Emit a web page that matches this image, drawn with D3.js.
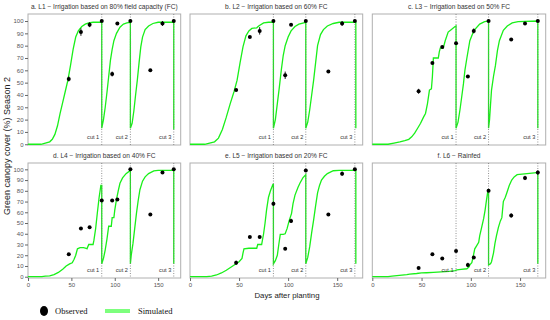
<!DOCTYPE html>
<html><head><meta charset="utf-8">
<script src="https://cdn.jsdelivr.net/npm/d3@7"></script>
<style>body{margin:0;background:#fff}svg{display:block}</style>
</head><body>
<svg id="c" width="550" height="320"></svg>
<script>
// ---------- data ----------
const titles = [
  "a. L1 \u2212 Irrigation based on 80% field capacity (FC)",
  "b. L2 \u2212 Irrigation based on 60% FC",
  "c. L3 \u2212 Irrigation based on 50% FC",
  "d. L4 \u2212 Irrigation based on 40% FC",
  "e. L5 \u2212 Irrigation based on 20% FC",
  "f. L6 \u2212 Rainfed"
];
const cutDays = [85, 118, 168];
const cutLabels = ["cut 1", "cut 2", "cut 3"];
const xTicks = [0, 50, 100, 150];
const yTicks = [0, 10, 20, 30, 40, 50, 60, 70, 80, 90, 100];

const obsDays = [47, 61, 71, 85, 97, 103, 118, 141, 155, 168];
const obsA = [53, 91, 97, 100, 57, 98, 100, 60, 98, 100];
const obsB = [44, 87, 92, 100, 56, 97, 100, 59, 98, 100];
const obsC = [43, 66, 79, 82, 55, 92, 100, 85, 98, 100];
const obsD = [21, 45, 46, 71, 71, 72, 100, 58, 97, 100];
const obsE = [13, 37, 37, 68, 26, 52, 99, 58, 96, 100];
const obsF = [8, 21, 17, 24, 11, 18, 80, 57, 92, 97];
const errA = [2, 3, 2, 1, 2, 1, 1, 1, 2, 1];
const errB = [1, 1, 3, 1, 3, 1, 1, 1, 2, 1];
const errC = [2, 1, 1, 1, 1, 2, 1, 1, 1, 1];
const errD = [1, 1, 1, 1, 1, 1, 1, 1, 1, 1];
const errE = [2, 1, 1, 2, 1, 2, 1, 1, 2, 1];
const errF = [1, 1, 1, 1, 2, 1, 1, 2, 2, 2];

const simA = [[0,0],[15,0],[20,1],[25,2],[28,4],[31,8],[34,15],[37,25],[40,34],[43,43],[46,52],[49,64],[52,77],[55,87],[58,92],[62,95.5],[66,97.5],[70,98.5],[75,99],[85,99],[85,13],[87,20],[89,30],[91,42],[93,55],[95,68],[97,77],[99,84],[102,90],[106,95],[110,97.5],[114,98.5],[118,99],[118,13],[120,17],[122,27],[124,40],[126,52],[128,66],[130,79],[132,87],[135,93],[139,96],[144,98],[150,99],[168,99],[168,12]];
const simB = [[0,0],[15,0],[20,1],[25,2],[29,5],[33,12],[37,22],[41,33],[45,43],[48,52],[51,66],[54,79],[57,88],[60,92],[63,94],[68,94.5],[70,96],[75,98.5],[80,99],[85,99],[85,13],[87,20],[89,33],[91,46],[93,60],[95,72],[97,80],[100,87],[103,92],[107,95.5],[111,97.5],[118,99],[118,13],[120,18],[122,28],[124,40],[126,52],[128,66],[130,80],[133,89],[136,93],[140,96],[146,98],[152,99],[169,99],[169,13]];
const simC = [[0,0],[16,0],[22,1],[28,2],[33,3],[37,4],[40,6],[43,9],[46,13],[49,17],[52,22],[54,25],[56,33],[58,44],[60,45],[61,55],[62,70],[67,70],[68,75],[69,78],[72,78],[74,84],[77,91],[80,93],[84,95.5],[85,96],[85,13],[87,18],[89,28],[91,40],[92.5,49],[94,60],[96,70],[99,84],[102,90],[104,93],[109,97.5],[114,99.5],[118,100],[118,13],[119,20],[120,32],[121,44],[123,55],[125,64],[127,76],[129,84],[133,92.5],[137,96],[142,98.5],[148,99.5],[168,100],[168,13]];
const simD = [[0,0],[16,0],[20,0.5],[25,0.8],[30,2],[35,4],[40,7],[44,10],[48,12],[51,13],[53,16],[55,20],[57,26],[60,27],[64,27],[67,26.5],[68,26],[70,30],[75,30],[76,34],[78,45],[80,60],[82,74],[84,85],[85,85],[85,12],[87,17],[89,25],[91,35],[93,47],[96,47],[97,55],[99,55],[100,62],[102,72],[104,80],[106,87],[109,92],[113,96],[118,99],[118,12],[119,20],[121,31],[123,45],[125,59],[127,71],[129,81],[132,89],[135,93],[139,96],[145,98.5],[150,99],[168,99],[168,12]];
const simE = [[0,0],[17,0],[22,0.5],[27,1.6],[32,3.5],[37,6],[42,9],[47,12],[50,14],[53,17],[54,22],[55,26],[60,26.5],[68,26.5],[69,30],[73,30],[75,40],[76.5,50],[78,62],[80,74],[82,80],[84.5,86],[85,86],[85,12],[87,15],[89,20],[90.5,30],[92,39.5],[95,39.5],[97,40],[99,45],[101,52],[103.5,59],[105,68],[107,76],[110,83],[112,87],[115,92],[118,95],[118,12],[120,18],[122,28],[124,41],[126,53],[128,66],[130,78],[132,85],[134,90],[137,93.5],[140,96],[146,98.7],[152,99],[169,99],[169,12]];
const simF = [[0,0],[16,0],[20,0.5],[25,1],[30,1.5],[35,2],[38,2.5],[45,3],[50,3.5],[55,3.7],[62,4],[70,4.5],[78,5],[84,5.6],[86,6.3],[90,6.8],[96,7.4],[98,9],[99,11],[101,13],[102,17],[104,26],[106,29],[108,32],[109,38],[111,46],[113,54],[114.5,62],[116,72],[117.5,81],[118,81],[118,11],[120,12],[121,14],[123,22],[124.5,31],[126,38],[128,46],[130,52],[131.5,55],[133,70],[135,74],[136.5,78],[139,85],[141.5,90],[144,93],[147,95],[152,95.5],[157,96],[162,96.5],[167,97],[168,97],[168,12]];

const obsSeries = [obsA, obsB, obsC, obsD, obsE, obsF];
const errSeries = [errA, errB, errC, errD, errE, errF];
const simSeries = [simA, simB, simC, simD, simE, simF];

// ---------- layout ----------
const svg = d3.select("#c");
const cols = [[28, 180.7], [190, 362.7], [372.3, 545.7]];
const rows = [{top: 14, bottom: 145, dom: [-0.6, 105.7]}, {top: 163, bottom: 278, dom: [-1.2, 105.9]}];
const green = "#19f019";
const font = "Liberation Sans, Arial, sans-serif";

titles.forEach((t, i) => {
  const c = cols[i % 3], r = rows[Math.floor(i / 3)];
  const x = d3.scaleLinear().domain([0, 176]).range(c);
  const y = d3.scaleLinear().domain(r.dom).range([r.bottom, r.top]);
  const g = svg.append("g");

  g.append("rect").attr("x", c[0]).attr("y", r.top)
    .attr("width", c[1] - c[0]).attr("height", r.bottom - r.top)
    .attr("fill", "#fff").attr("stroke", "#b0b0b0").attr("stroke-width", 1);

  g.append("text").attr("x", (c[0] + c[1]) / 2).attr("y", r.top - 5)
    .attr("text-anchor", "middle").attr("font-family", font)
    .attr("font-size", 6.6).attr("fill", "#333").text(t);

  // simulated line
  g.append("path").datum(simSeries[i])
    .attr("d", d3.line().x(d => x(d[0])).y(d => y(d[1])))
    .attr("fill", "none").attr("stroke", green).attr("stroke-width", 1.3);

  // cut lines
  cutDays.forEach((cd, k) => {
    g.append("line").attr("x1", x(cd)).attr("x2", x(cd))
      .attr("y1", r.top).attr("y2", r.bottom)
      .attr("stroke", "#777").attr("stroke-width", 0.8)
      .attr("stroke-dasharray", "1,1.5");
    g.append("text").attr("x", x(cd) - 2.5).attr("y", r.bottom - 6.5)
      .attr("text-anchor", "end").attr("font-family", font)
      .attr("font-size", 5.6).attr("fill", "#333").text(cutLabels[k]);
  });

  // observed with error bars
  const obs = obsSeries[i], err = errSeries[i];
  obsDays.forEach((d, k) => {
    if (err[k] > 1) {
      g.append("line").attr("x1", x(d)).attr("x2", x(d))
        .attr("y1", y(obs[k] - err[k])).attr("y2", y(obs[k] + err[k]))
        .attr("stroke", "#000").attr("stroke-width", 0.9);
    }
    g.append("circle").attr("cx", x(d)).attr("cy", y(obs[k])).attr("r", 2)
      .attr("fill", "#000");
  });

  // axes
  if (i % 3 === 0) {
    const ax = g.append("g").attr("transform", `translate(${c[0]},0)`)
      .call(d3.axisLeft(y).tickValues(yTicks).tickSize(3).tickPadding(1.5));
    ax.select(".domain").remove();
    ax.selectAll("line").attr("stroke", "#666");
    ax.selectAll("text").attr("font-family", font).attr("font-size", 6).attr("fill", "#555");
  }
  if (i >= 3) {
    const ax = g.append("g").attr("transform", `translate(0,${r.bottom})`)
      .call(d3.axisBottom(x).tickValues(xTicks).tickSize(3).tickPadding(1.5));
    ax.select(".domain").remove();
    ax.selectAll("line").attr("stroke", "#666");
    ax.selectAll("text").attr("font-family", font).attr("font-size", 6).attr("fill", "#555");
  }
});

// axis titles
svg.append("text").attr("transform", "translate(10,146) rotate(-90)")
  .attr("text-anchor", "middle").attr("font-family", font)
  .attr("font-size", 9).attr("fill", "#222").text("Green canopy cover (%) Season 2");
svg.append("text").attr("x", 287).attr("y", 298)
  .attr("text-anchor", "middle").attr("font-family", font)
  .attr("font-size", 7.8).attr("fill", "#222").text("Days after planting");

// legend
const lg = svg.append("g");
lg.append("ellipse").attr("cx", 44).attr("cy", 311).attr("rx", 4).attr("ry", 5).attr("fill", "#000");
lg.append("text").attr("x", 55).attr("y", 314).attr("font-family", "Liberation Serif, Times New Roman, serif")
  .attr("font-size", 8.5).attr("fill", "#111").text("Observed");
lg.append("line").attr("x1", 105).attr("x2", 130).attr("y1", 311).attr("y2", 311)
  .attr("stroke", "#7dff7d").attr("stroke-width", 4);
lg.append("text").attr("x", 138).attr("y", 314).attr("font-family", "Liberation Serif, Times New Roman, serif")
  .attr("font-size", 8.5).attr("fill", "#111").text("Simulated");
</script>
</body></html>
